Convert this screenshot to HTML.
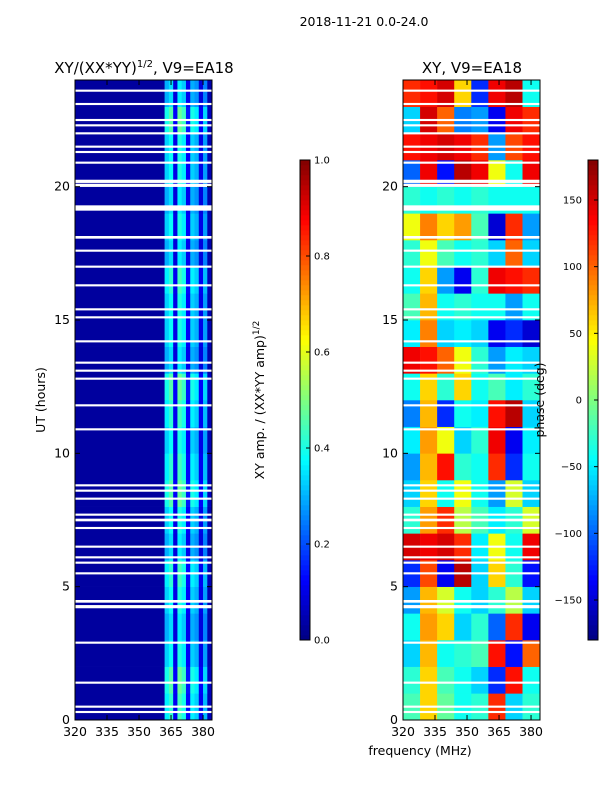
<!DOCTYPE html>
<html><head><meta charset="utf-8"><style>
html,body{margin:0;padding:0;background:#fff;}
svg{display:block;font-family:"DejaVu Sans","Liberation Sans",sans-serif;}
</style></head><body>
<svg id="fig" width="600" height="800" viewBox="0 0 600 800">
<text x="364" y="26" font-size="12.5" text-anchor="middle">2018-11-21 0.0-24.0</text>
<text x="144" y="73" font-size="15" text-anchor="middle">XY/(XX*YY)<tspan font-size="10" dy="-6">1/2</tspan><tspan dy="6">, V9=EA18</tspan></text>
<text x="472" y="73" font-size="15" text-anchor="middle">XY, V9=EA18</text>
<text transform="translate(45,400) rotate(-90)" font-size="12.5" text-anchor="middle">UT (hours)</text>
<text x="420" y="755" font-size="12.5" text-anchor="middle">frequency (MHz)</text>
<text transform="translate(264,400) rotate(-90)" font-size="12.5" text-anchor="middle">XY amp. / (XX*YY amp)<tspan font-size="9" dy="-5">1/2</tspan></text>
<g id="left"></g>
<g id="right"></g>
<g id="cbars"></g>
<text transform="translate(544,400) rotate(-90)" font-size="12.5" text-anchor="middle">phase (deg)</text>
</svg>
<script>
// ---- data ----
const ampFreqEdges = [320,362,364,366,368,370,372,374,376,378,380,382,384.2];
const ampColValues = [0.03,0.33,0.38,0.1,0.4,0.36,0.12,0.33,0.3,0.1,0.28,0.05];
const ampHourScale = [1.1,1.2,1.0,0.9,1.0,1.1,0.9,1.0,1.2,1.1,1.0,1.1,1.2,0.9,1.0,1.0,1.1,0.9,1.0,0.9,1.0,1.0,1.2,0.9];
const phaseFreqEdges = [320,328,336,344,352,360,368,376,384.2];
const phaseValues = [
[-20,60,-10,-40,-30,120,-60,-30],
[-30,60,-20,-40,-60,-120,130,-40],
[-60,70,-40,-30,-20,130,-130,100],
[-40,80,60,-60,-30,-100,120,-140],
[-80,70,30,-40,-60,-30,20,-60],
[-120,110,-140,160,-60,60,-30,-130],
[150,140,150,120,-50,40,-40,140],
[-30,80,120,20,-20,-50,-30,30],
[-60,60,-40,40,-40,-80,30,-60],
[-80,70,130,-30,-40,120,-120,-40],
[-50,80,40,-60,-30,140,-140,-50],
[-90,70,-120,-40,-50,130,160,-60],
[-40,60,-30,60,-40,-20,-50,-30],
[140,130,100,40,-30,-80,-50,-60],
[-50,90,-60,-50,-60,-140,-120,-150],
[-20,70,-40,-30,-40,-40,-80,-40],
[-40,60,-80,-140,-30,140,130,120],
[-30,40,-20,-40,-30,-60,100,-60],
[40,90,60,80,-20,-150,120,-80],
[-30,-40,-30,-40,-30,-40,-40,-40],
[-100,140,-130,160,140,40,-40,140],
[130,140,150,140,120,-80,110,130],
[-60,150,100,-90,-80,-140,140,120],
[120,130,150,60,-120,140,160,-40]
];
const flaggedHours = [0.3,0.5,1.4,2.9,4.25,4.45,5.5,5.9,6.1,6.5,7.2,7.5,7.7,8.3,8.6,8.8,10.9,11.8,12.8,13.1,13.4,14.2,15.1,15.4,16.3,17.0,17.6,18.1,19.2,20.05,20.2,20.9,21.3,21.5,22.0,22.3,22.5,23.1,23.6];
const flaggedWidths = [0.08,0.08,0.08,0.08,0.12,0.1,0.08,0.08,0.08,0.08,0.08,0.1,0.08,0.08,0.08,0.08,0.08,0.08,0.08,0.08,0.08,0.08,0.08,0.08,0.08,0.08,0.08,0.1,0.2,0.12,0.12,0.08,0.08,0.08,0.08,0.08,0.08,0.08,0.08];
const xTicks = [320,335,350,365,380];
const yTicks = [0,5,10,15,20];
const ampTicks = [0.0,0.2,0.4,0.6,0.8,1.0];
const phaseTicks = [-150,-100,-50,0,50,100,150];

// ---- helpers ----
const NS='http://www.w3.org/2000/svg';
function jet(v){
  v=Math.max(0,Math.min(1,v));
  const r=Math.max(0,Math.min(1,1.5-Math.abs(4*v-3)));
  const g=Math.max(0,Math.min(1,1.5-Math.abs(4*v-2)));
  const b=Math.max(0,Math.min(1,1.5-Math.abs(4*v-1)));
  return `rgb(${Math.round(r*255)},${Math.round(g*255)},${Math.round(b*255)})`;
}
function mk(tag,attrs,parent){const e=document.createElementNS(NS,tag);for(const k in attrs)e.setAttribute(k,attrs[k]);parent.appendChild(e);return e;}
const T=80, B=720, F0=320, F1=384.2;
const yScale=h=>B-(h/24)*(B-T);
function panel(gid,x0,x1,edges,cellVal){
  const g=document.getElementById(gid);
  const xs=f=>x0+(f-F0)/(F1-F0)*(x1-x0);
  for(let r=0;r<24;r++){
    for(let c=0;c<edges.length-1;c++){
      const rc=mk('rect',{x:xs(edges[c]),y:yScale(r+1),width:xs(edges[c+1])-xs(edges[c])+0.3,height:yScale(r)-yScale(r+1)+0.3,fill:jet(cellVal(r,c))},g);
      
      
    }
  }
  flaggedHours.forEach((h,i)=>{
    const fr=mk('rect',{x:x0,y:yScale(h+flaggedWidths[i]/2),width:x1-x0,height:yScale(h-flaggedWidths[i]/2)-yScale(h+flaggedWidths[i]/2),fill:'#fff'},g);
    
    
  });
  const fr=mk('rect',{x:x0,y:T,width:x1-x0,height:B-T,fill:'none',stroke:'#000','stroke-width':1},g);
  
  
  xTicks.forEach(t=>{
    const x=xs(t);
    mk('line',{x1:x,x2:x,y1:B,y2:B-5,stroke:'#000'},g);
    mk('line',{x1:x,x2:x,y1:T,y2:T+5,stroke:'#000'},g);
    const tx=mk('text',{x:x,y:B+16,'font-size':12.5,'text-anchor':'middle'},g);tx.textContent=t;
    
    
  });
  yTicks.forEach(t=>{
    const y=yScale(t);
    mk('line',{x1:x0,x2:x0+5,y1:y,y2:y,stroke:'#000'},g);
    mk('line',{x1:x1,x2:x1-5,y1:y,y2:y,stroke:'#000'},g);
    const tx=mk('text',{x:x0-5,y:y+4,'font-size':12.5,'text-anchor':'end'},g);tx.textContent=t;
    
    
  });
}
panel('left',75,212,ampFreqEdges,(r,c)=>ampColValues[c]*(c===0?1:ampHourScale[r]));
panel('right',403,540,phaseFreqEdges,(r,c)=>(phaseValues[r][c]+180)/360);

function cbar(x,ticks,vmin,vmax,name,leftLabels){
  const g=document.getElementById('cbars');
  const top=160,bot=640,w=10;
  for(let i=0;i<96;i++){
    const s=mk('rect',{x:x,y:bot-(i+1)*5,width:w,height:5.3,fill:jet((i+0.5)/96)},g);
    
    
  }
  const f=mk('rect',{x:x,y:top,width:w,height:bot-top,fill:'none',stroke:'#000'},g);
  
  
  ticks.forEach(t=>{
    const y=bot-(t-vmin)/(vmax-vmin)*(bot-top);
    mk('line',{x1:x+w-4,x2:x+w,y1:y,y2:y,stroke:'#000'},g);
    const tx=mk('text',leftLabels?{x:x-6,y:y+3.5,'font-size':10,'text-anchor':'end'}:{x:x+w+4,y:y+3.5,'font-size':10},g);
    tx.textContent=(name==='amp-colorbar'?t.toFixed(1):(t<0?'\u2212'+(-t):t));
    
    
  });
}
cbar(300,ampTicks,0,1,'amp-colorbar',false);
cbar(588,phaseTicks,-180,180,'phase-colorbar',true);
</script>
</body></html>
